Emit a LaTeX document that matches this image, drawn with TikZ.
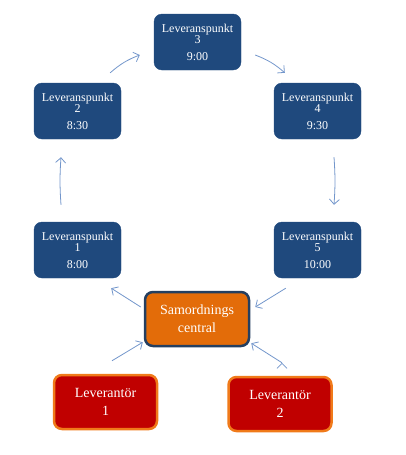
\documentclass[tikz,border=0pt]{standalone}
\usepackage{fontspec}
\setmainfont{Liberation Serif}
\usetikzlibrary{arrows.meta}

\definecolor{pointblue}{HTML}{1F497D}
\definecolor{hubfill}{HTML}{E36C09}
\definecolor{hubline}{HTML}{243F60}
\definecolor{supfill}{HTML}{C00000}
\definecolor{supline}{HTML}{F07A1A}
\definecolor{linkblue}{HTML}{7396CB}

\begin{document}
\begin{tikzpicture}[x=1pt,y=-1pt,->,>={Straight Barb[length=5pt,width=10pt]},
                    point node/.style={rectangle,rounded corners=8pt,fill=pointblue,draw=pointblue,
                      text=white,minimum width=87pt,minimum height=56pt,inner sep=0pt,align=center,
                      font=\fontsize{12}{11.5}\selectfont},
                    hub node/.style={rectangle,rounded corners=8pt,fill=hubfill,draw=hubline,line width=2.5pt,
                      text=white,minimum width=104pt,minimum height=54pt,inner sep=0pt,align=center,
                      font=\fontsize{14}{18}\selectfont},
                    sup node/.style={rectangle,rounded corners=8pt,fill=supfill,draw=supline,line width=2.5pt,
                      text=white,minimum width=103pt,minimum height=54pt,inner sep=0pt,align=center,
                      font=\fontsize{14}{18}\selectfont}]

  \useasboundingbox (0,0) rectangle (405,455);

  \node[point node] (lp3) at (197.5,42)  {Leveranspunkt\\3\\[5pt]9:00};
  \node[point node] (lp2) at (77.5,111)  {Leveranspunkt\\2\\[5pt]8:30};
  \node[point node] (lp4) at (317.5,111) {Leveranspunkt\\4\\[5pt]9:30};
  \node[point node] (lp1) at (77.5,250)  {Leveranspunkt\\1\\[5pt]8:00};
  \node[point node] (lp5) at (317.5,250) {Leveranspunkt\\5\\[5pt]10:00};

  \node[hub node] (hub) at (197,319) {Samordnings\\central};

  \node[sup node] (lev1) at (105.5,402) {Leverantör\\1};
  \node[sup node] (lev2) at (280,404)   {Leverantör\\2};

  \path[draw=linkblue,line width=0.8pt]
    ([xshift=-16.5pt,yshift=17pt]lp1.north) edge[bend left=4] ([xshift=-16.5pt,yshift=-18pt]lp2.south)
    ([xshift=-11pt,yshift=10pt]lp2.north east) edge[bend left=10] ([xshift=-14pt,yshift=-13pt]lp3.west)
    ([xshift=14pt,yshift=-13pt]lp3.east) edge[bend left=10] ([xshift=11pt,yshift=10pt]lp4.north west)
    ([xshift=16.5pt,yshift=-18pt]lp4.south) edge[bend left=4] ([xshift=16.5pt,yshift=17pt]lp5.north)
    ([xshift=-3pt,yshift=12pt]hub.west) edge ([xshift=-10pt,yshift=-10pt]lp1.south east)
    ([xshift=12pt,yshift=-10pt]lp5.south west) edge ([xshift=5pt,yshift=12pt]hub.east)
    ([xshift=6.5pt,yshift=13pt]lev1.north) edge ([xshift=-1pt,yshift=5pt]hub.south west)
    ([xshift=2pt,yshift=13pt]lev2.north) edge ([xshift=1pt,yshift=4pt]hub.south east);
\end{tikzpicture}
\end{document}
